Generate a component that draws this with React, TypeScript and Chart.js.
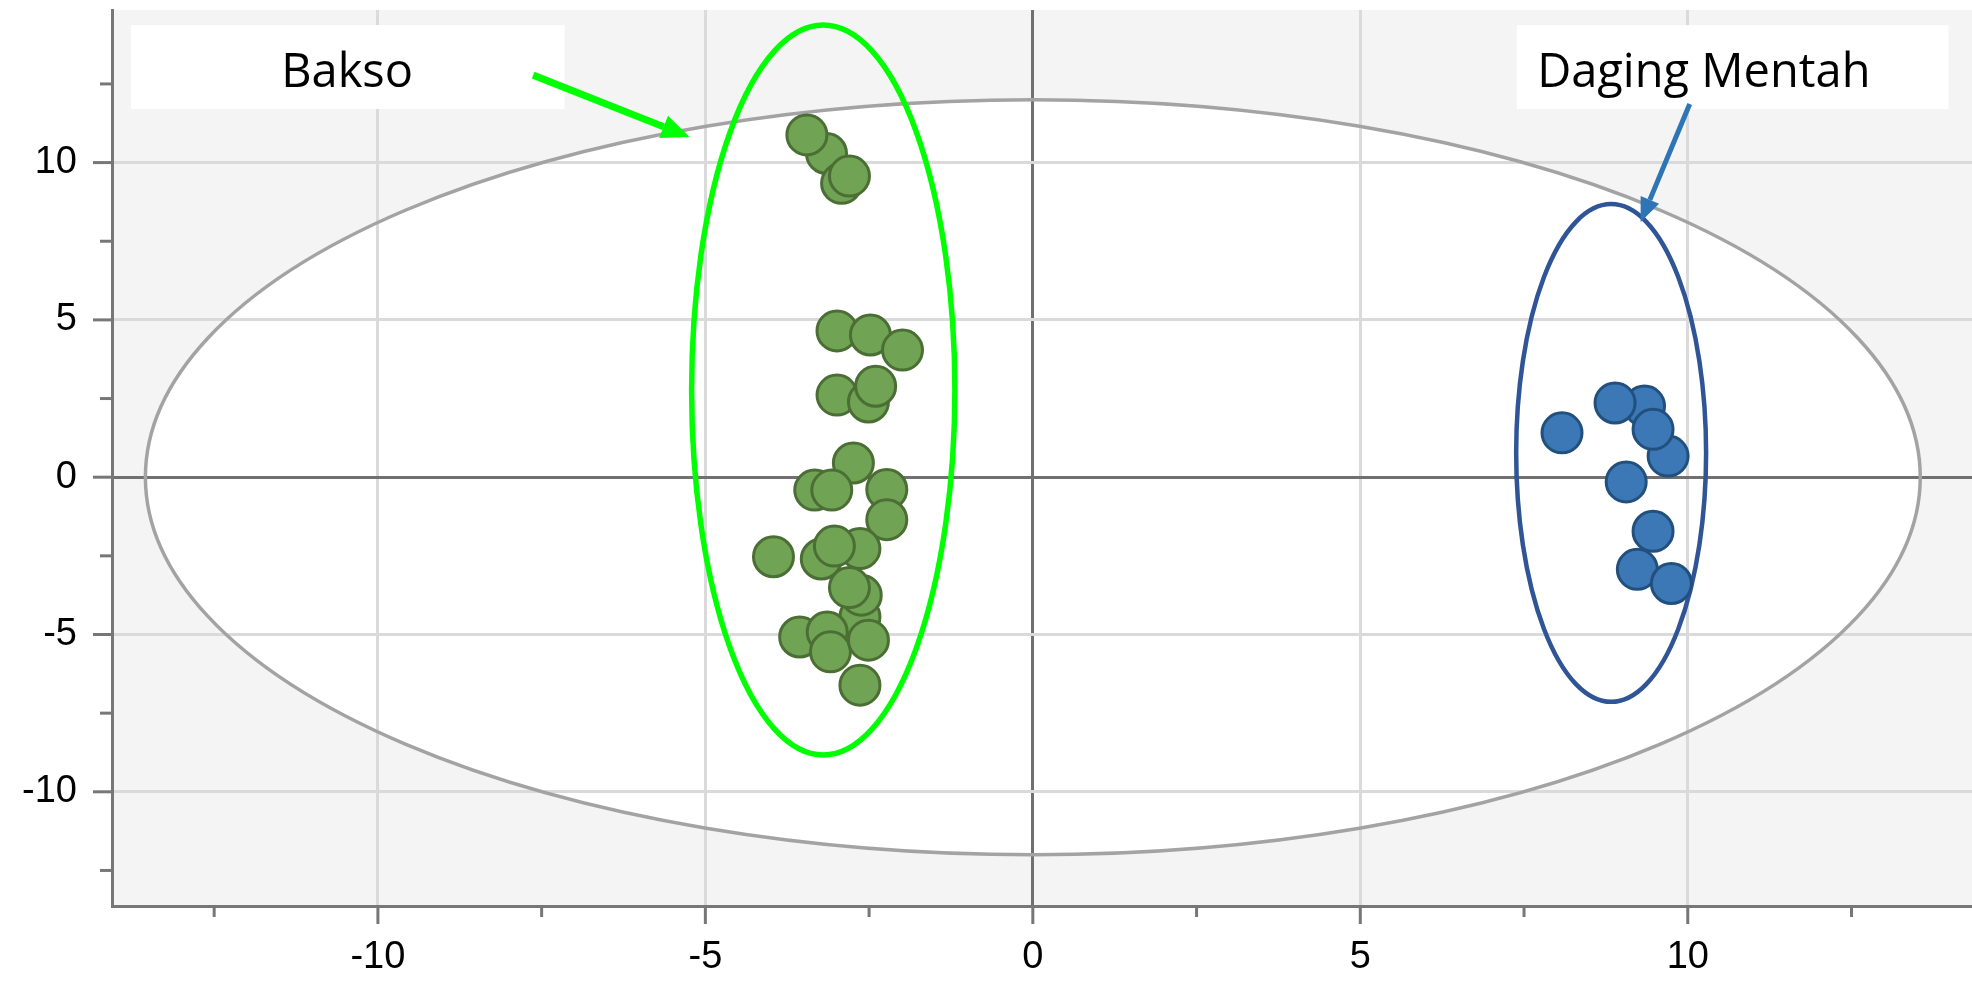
import React, { useEffect, useRef } from 'react';
import { Chart, registerables } from 'chart.js';

Chart.register(...registerables);

// ---- Data (score plot) ----
const baksoX = [-3.15, -3.45, -2.92, -2.8, -2.99, -2.48, -1.99, -2.99, -2.51, -2.4, -2.74, -3.33, -3.07, -2.23, -2.23, -3.96, -3.23, -2.64, -3.03, -2.64, -2.62, -2.8, -3.56, -3.14, -3.09, -2.51, -2.64];
const baksoY = [10.29, 10.88, 9.34, 9.57, 4.65, 4.52, 4.04, 2.61, 2.39, 2.89, 0.45, -0.41, -0.41, -0.39, -1.35, -2.53, -2.6, -2.27, -2.19, -4.44, -3.75, -3.51, -5.08, -4.92, -5.55, -5.18, -6.61];
const dagingX = [8.08, 9.34, 8.89, 9.7, 9.47, 9.06, 9.47, 9.23, 9.75];
const dagingY = [1.41, 2.26, 2.36, 0.67, 1.52, -0.15, -1.72, -2.93, -3.38];

const seriesNames = ['Bakso', 'Daging Mentah'];

// axis range and ticks
const xMin = -14.06;
const xMax = 14.34;
const yMin = -13.63;
const yMax = 14.85;
const minorStep = 2.5;
const majorStep = 5;

// ellipses: [centerX, centerY, semiX, semiY]
const outerEllipse = [0, 0, 13.55, 12.0];
const baksoEllipse = [-3.2, 2.77, 2.01, 11.6];
const dagingEllipse = [8.83, 0.77, 1.45, 7.91];

// annotation labels: box [x1, y1, x2, y2], text anchor [x, y], arrow [x1, y1, x2, y2] (data units)
const baksoBox = [-13.77, 14.37, -7.15, 11.7];
const baksoText = [-10.47, 12.4];
const baksoArrow = [-7.63, 12.78, -5.24, 10.81];
const dagingBox = [7.39, 14.37, 13.98, 11.7];
const dagingText = [7.7, 12.4];
const dagingArrow = [10.03, 11.86, 9.28, 8.11];

const toPoints = (xs: number[], ys: number[]) => xs.map((v, i) => ({ x: v, y: ys[i] }));

function ellipsePath(ctx: CanvasRenderingContext2D, xs: any, ys: any, e: number[]) {
  const cx = xs.getPixelForValue(e[0]);
  const cy = ys.getPixelForValue(e[1]);
  const rx = Math.abs(xs.getPixelForValue(e[0] + e[2]) - cx);
  const ry = Math.abs(ys.getPixelForValue(e[1] + e[3]) - cy);
  ctx.beginPath();
  ctx.ellipse(cx, cy, rx, ry, 0, 0, Math.PI * 2);
}

function drawArrow(ctx: CanvasRenderingContext2D, x1: number, y1: number, x2: number, y2: number, color: string, width: number, headLen: number, headW: number) {
  const ang = Math.atan2(y2 - y1, x2 - x1);
  const bx = x2 - headLen * Math.cos(ang);
  const by = y2 - headLen * Math.sin(ang);
  ctx.strokeStyle = color;
  ctx.lineWidth = width;
  ctx.lineCap = 'butt';
  ctx.beginPath();
  ctx.moveTo(x1, y1);
  ctx.lineTo(bx, by);
  ctx.stroke();
  ctx.fillStyle = color;
  ctx.beginPath();
  ctx.moveTo(x2, y2);
  ctx.lineTo(bx + (headW / 2) * Math.sin(ang), by - (headW / 2) * Math.cos(ang));
  ctx.lineTo(bx - (headW / 2) * Math.sin(ang), by + (headW / 2) * Math.cos(ang));
  ctx.closePath();
  ctx.fill();
}

const isMajor = (v: number) => Math.abs(v / majorStep - Math.round(v / majorStep)) < 1e-6;

const decorPlugin = {
  id: 'decor',
  beforeDraw(chart: any) {
    const { ctx, chartArea: ca, scales } = chart;
    ctx.save();
    ctx.fillStyle = '#f4f4f4';
    ctx.fillRect(ca.left, ca.top, ca.right - ca.left, ca.bottom - ca.top);
    ctx.beginPath();
    ctx.rect(ca.left, ca.top, ca.right - ca.left, ca.bottom - ca.top);
    ctx.clip();
    ellipsePath(ctx, scales.x, scales.y, outerEllipse);
    ctx.fillStyle = '#ffffff';
    ctx.fill();
    ctx.restore();
  },
  beforeDatasetsDraw(chart: any) {
    const { ctx, chartArea: ca, scales } = chart;
    ctx.save();
    ctx.beginPath();
    ctx.rect(ca.left, ca.top, ca.right - ca.left, ca.bottom - ca.top);
    ctx.clip();
    ellipsePath(ctx, scales.x, scales.y, outerEllipse);
    ctx.strokeStyle = '#a3a3a3';
    ctx.lineWidth = 3.5;
    ctx.stroke();
    ellipsePath(ctx, scales.x, scales.y, baksoEllipse);
    ctx.strokeStyle = '#00ff00';
    ctx.lineWidth = 5.5;
    ctx.stroke();
    ellipsePath(ctx, scales.x, scales.y, dagingEllipse);
    ctx.strokeStyle = '#2f5597';
    ctx.lineWidth = 4.5;
    ctx.stroke();
    ctx.restore();
  },
  afterDraw(chart: any) {
    const { ctx, chartArea: ca, scales } = chart;
    const xs = scales.x;
    const ys = scales.y;
    ctx.save();
    // tick marks
    ctx.strokeStyle = '#777777';
    ctx.lineWidth = 3;
    xs.ticks.forEach((t: any) => {
      const px = xs.getPixelForValue(t.value);
      const len = isMajor(t.value) ? 18 : 11;
      ctx.beginPath();
      ctx.moveTo(px, ca.bottom);
      ctx.lineTo(px, ca.bottom + len);
      ctx.stroke();
    });
    ys.ticks.forEach((t: any) => {
      const py = ys.getPixelForValue(t.value);
      const len = isMajor(t.value) ? 19 : 12;
      ctx.beginPath();
      ctx.moveTo(ca.left, py);
      ctx.lineTo(ca.left - len, py);
      ctx.stroke();
    });

    // annotation boxes
    const boxes = [
      { box: baksoBox, text: baksoText, label: seriesNames[0], align: 'center', arrow: baksoArrow, color: '#00ff00', w: 7, hl: 28, hw: 24 },
      { box: dagingBox, text: dagingText, label: seriesNames[1], align: 'left', arrow: dagingArrow, color: '#2e75b6', w: 5, hl: 24, hw: 20 },
    ];
    boxes.forEach((b) => {
      const x1 = xs.getPixelForValue(b.box[0]);
      const y1 = ys.getPixelForValue(b.box[1]);
      const x2 = xs.getPixelForValue(b.box[2]);
      const y2 = ys.getPixelForValue(b.box[3]);
      ctx.fillStyle = '#ffffff';
      ctx.fillRect(x1, y1, x2 - x1, y2 - y1);
      ctx.fillStyle = '#000000';
      ctx.font = '47px "Open Sans"';
      ctx.textAlign = b.align as CanvasTextAlign;
      ctx.textBaseline = 'alphabetic';
      ctx.fillText(b.label, xs.getPixelForValue(b.text[0]), ys.getPixelForValue(b.text[1]));
      drawArrow(
        ctx,
        xs.getPixelForValue(b.arrow[0]),
        ys.getPixelForValue(b.arrow[1]),
        xs.getPixelForValue(b.arrow[2]),
        ys.getPixelForValue(b.arrow[3]),
        b.color,
        b.w,
        b.hl,
        b.hw
      );
    });
    ctx.restore();
  },
};

const gridColor = (c: any) => {
  const v = c.tick ? c.tick.value : 1;
  if (Math.abs(v) < 1e-9) return '#707070';
  return isMajor(v) ? '#dadada' : 'rgba(0,0,0,0)';
};

const tickLabel = (v: any) => (isMajor(Number(v)) ? String(v) : '');

const zeroPadding = (s: any) => {
  s.paddingTop = 0;
  s.paddingBottom = 0;
  s.paddingLeft = 0;
  s.paddingRight = 0;
};

export default function App() {
  const ref = useRef<HTMLCanvasElement | null>(null);
  useEffect(() => {
    document.body.style.margin = '0';
    if (!ref.current) return;
    const chart = new Chart(ref.current, {
      type: 'scatter',
      data: {
        datasets: [
          {
            label: seriesNames[0],
            data: toPoints(baksoX, baksoY),
            backgroundColor: '#70a354',
            borderColor: '#4b6e35',
            borderWidth: 3,
            pointRadius: 20,
            pointHoverRadius: 20,
          },
          {
            label: seriesNames[1],
            data: toPoints(dagingX, dagingY),
            backgroundColor: '#3c78b5',
            borderColor: '#22507e',
            borderWidth: 3,
            pointRadius: 20,
            pointHoverRadius: 20,
          },
        ],
      },
      options: {
        animation: false,
        responsive: false,
        devicePixelRatio: 1,
        layout: { autoPadding: false, padding: { top: 10, left: 0, right: 0, bottom: 0 } },
        plugins: { legend: { display: false }, tooltip: { enabled: false } },
        scales: {
          x: {
            type: 'linear',
            position: 'bottom',
            min: xMin,
            max: xMax,
            afterFit: (s: any) => {
              s.height = 75;
              zeroPadding(s);
            },
            ticks: {
              stepSize: minorStep,
              includeBounds: false,
              autoSkip: false,
              maxRotation: 0,
              callback: tickLabel,
              color: '#000000',
              padding: 29,
              font: { family: '"Liberation Sans", Arial, sans-serif', size: 38 },
            },
            grid: { drawTicks: false, color: gridColor, lineWidth: 3 },
            border: { display: true, color: '#777777', width: 3 },
          },
          y: {
            type: 'linear',
            position: 'left',
            min: yMin,
            max: yMax,
            afterFit: (s: any) => {
              s.width = 112;
              zeroPadding(s);
            },
            ticks: {
              stepSize: minorStep,
              includeBounds: false,
              autoSkip: false,
              callback: tickLabel,
              color: '#000000',
              padding: 35,
              font: { family: '"Liberation Sans", Arial, sans-serif', size: 38 },
            },
            grid: { drawTicks: false, color: gridColor, lineWidth: 3 },
            border: { display: true, color: '#777777', width: 3 },
          },
        },
      },
      plugins: [decorPlugin],
    } as any);
    return () => chart.destroy();
  }, []);
  return (
    <div style={{ width: 1972, height: 981, background: '#ffffff' }}>
      <canvas ref={ref} width={1972} height={981} style={{ display: 'block' }} />
    </div>
  );
}
